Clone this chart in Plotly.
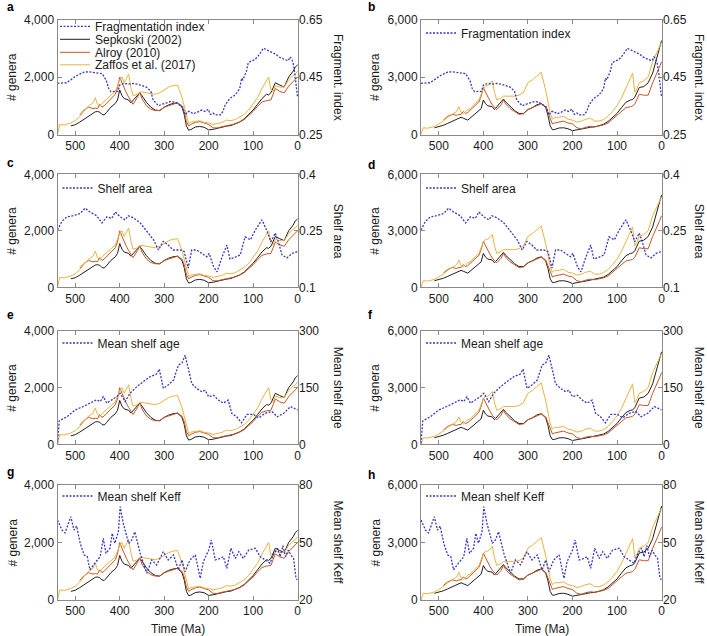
import plotly.graph_objects as go

# ---------------- data ----------------
T = [540, 535, 525, 515, 510, 500, 490, 480, 470, 460,
     455, 450, 445, 440, 435, 430, 420, 410, 405, 400,
     395, 390, 385, 380, 375, 370, 360, 355, 350, 340,
     330, 320, 310, 300, 290, 280, 270, 260, 255, 250,
     245, 240, 230, 220, 210, 200, 190, 180, 170, 160,
     150, 140, 130, 120, 110, 100, 90, 80, 70, 65,
     60, 55, 50, 40, 30, 20, 10, 5, 0]

sepkoski_left = [None, None, None, None, 300, 340, 430, 530, 640, 740,
                 790, 800, 780, 700, 680, 760, 950, 1080, 1200, 1550,
                 1350, 1250, 1230, 1200, 1100, 1180, 1350, 1450, 1350, 1120,
                 950, 850, 830, 950, 1030, 1080, 1100, 950, 700, 300,
                 150, 170, 260, 280, 250, 160, 180, 220, 250, 290,
                 310, 370, 440, 540, 690, 850, 1050, 1250, 1400, 1380,
                 1450, 1600, 1800, 1720, 1650, 2000, 2200, 2350, 2420]
alroy_left = [None, None, None, None, None, None, 680, 850, 950, 900,
              920, 900, 1050, 950, 1000, 1080, 1250, 1400, 1600, 2000,
              1800, 1600, 1450, 1300, 1150, 1050, 1300, 1470, 1250, 1000,
              880, 830, 840, 950, 1000, 1050, 1100, 1000, 800, 450,
              300, 350, 420, 450, 400, 350, 230, 230, 270, 300,
              320, 370, 430, 520, 660, 800, 980, 1130, 1180, 1200,
              1200, 1400, 1600, 1500, 1450, 1680, 1850, 1920, 2000]
zaffos_left = [0, 350, 330, 380, 400, 480, 620, 820, 1000, 1100,
               1280, 1050, 980, 1080, 1150, 1200, 1350, 1500, 1700, 1900,
               2000, 1800, 1950, 2100, 1650, 1350, 1400, 1480, 1480, 1450,
               1440, 1400, 1450, 1550, 1650, 1700, 1720, 1300, 1000, 600,
               380, 430, 460, 480, 420, 400, 350, 380, 420, 500,
               480, 520, 600, 700, 850, 1050, 1280, 1600, 1900, 2000,
               1550, 1500, 1700, 1650, 1650, 1900, 2050, 2100, 2200]

sepkoski_right = [None, None, None, None, 350, 400, 480, 580, 680, 780,
                  850, 900, 850, 780, 750, 850, 1050, 1200, 1350, 1800,
                  1600, 1500, 1480, 1450, 1300, 1450, 1700, 1850, 1700, 1450,
                  1250, 1100, 1100, 1300, 1400, 1550, 1620, 1400, 1000, 450,
                  250, 260, 340, 350, 300, 200, 230, 290, 330, 380,
                  400, 460, 540, 680, 880, 1100, 1400, 1680, 1800, 1820,
                  1950, 2200, 2450, 2500, 2700, 3200, 4000, 4500, 4900]
alroy_right = [None, None, None, None, None, None, 750, 950, 1050, 1000,
               1050, 1050, 1200, 1100, 1150, 1250, 1450, 1700, 2000, 2450,
               2200, 1950, 1750, 1550, 1400, 1300, 1550, 1800, 1600, 1350,
               1200, 1050, 1080, 1300, 1400, 1500, 1600, 1450, 1150, 800,
               550, 600, 650, 700, 600, 550, 350, 300, 380, 430,
               400, 450, 500, 600, 800, 1000, 1250, 1400, 1450, 1480,
               1600, 1850, 2100, 2050, 2050, 2700, 3200, 3500, 3800]
zaffos_right = [0, 350, 330, 400, 420, 550, 700, 900, 1050, 1200,
                1450, 1150, 1080, 1200, 1300, 1350, 1550, 1800, 2100, 2400,
                2550, 2550, 2650, 2800, 2200, 1800, 1900, 2000, 2000, 2000,
                2000, 2050, 2200, 2700, 2850, 3050, 3250, 2300, 1700, 1100,
                800, 900, 900, 950, 800, 750, 650, 700, 800, 850,
                700, 700, 780, 950, 1200, 1500, 1900, 2400, 2900, 3200,
                2200, 2400, 2700, 2800, 3000, 3800, 4300, 4600, 4800]

frag_t = [540, 530, 520, 510, 500, 490, 480, 470, 460, 450,
          440, 435, 430, 425, 420, 410, 404, 400, 390, 380,
          370, 360, 350, 340, 330, 325, 320, 313, 305, 295,
          285, 275, 265, 258, 253, 247, 242, 235, 225, 216,
          208, 201, 196, 190, 185, 174, 168, 163, 155, 150,
          143, 137, 130, 126, 123, 119, 115, 111, 105, 96,
          90, 85, 77, 70, 58, 50, 42, 36, 28, 21,
          17, 14, 10, 6, 2, 0]
frag_v = [0.428, 0.428, 0.430, 0.44, 0.452, 0.46, 0.467, 0.468, 0.466, 0.464,
          0.462, 0.45, 0.437, 0.41, 0.399, 0.40, 0.40, 0.422, 0.428, 0.425,
          0.428, 0.425, 0.42, 0.415, 0.40, 0.37, 0.362, 0.35, 0.355, 0.36,
          0.365, 0.362, 0.352, 0.345, 0.318, 0.33, 0.33, 0.322, 0.328, 0.335,
          0.33, 0.338, 0.32, 0.325, 0.318, 0.318, 0.33, 0.352, 0.37, 0.378,
          0.385, 0.394, 0.41, 0.446, 0.44, 0.457, 0.47, 0.499, 0.505, 0.51,
          0.52, 0.53, 0.55, 0.545, 0.538, 0.53, 0.52, 0.515, 0.51, 0.507,
          0.52, 0.515, 0.50, 0.46, 0.394, 0.38]

shelf_t = [540, 530, 519, 505, 489, 478, 467, 452, 440, 429,
           418, 410, 399, 388, 381, 370, 354, 339, 324, 313,
           302, 291, 280, 264, 255, 246, 238, 227, 215, 204,
           199, 189, 181, 170, 159, 152, 140, 129, 118, 106,
           95, 80, 69, 60, 50, 43, 35, 24, 12, 0]
shelf_v = [0.252, 0.275, 0.287, 0.29, 0.296, 0.31, 0.30, 0.29, 0.271, 0.287,
           0.283, 0.30, 0.287, 0.279, 0.29, 0.285, 0.271, 0.248, 0.226, 0.199,
           0.222, 0.212, 0.199, 0.199, 0.195, 0.151, 0.199, 0.199, 0.19, 0.181,
           0.19, 0.155, 0.141, 0.18, 0.212, 0.175, 0.18, 0.186, 0.234, 0.226,
           0.252, 0.279, 0.25, 0.221, 0.244, 0.22, 0.186, 0.178, 0.19, 0.195]

age_t = [540, 536, 519, 500, 482, 467, 452, 444, 437, 429,
         418, 407, 399, 388, 377, 362, 347, 332, 317, 311,
         302, 291, 279, 268, 260, 253, 245, 238, 227, 215,
         208, 200, 189, 178, 167, 156, 148, 137, 126, 114,
         99, 87, 73, 58, 46, 31, 16, 5, 0]
age_v = [3, 62, 73, 91, 100, 109, 118, 113, 126, 109,
         118, 126, 135, 113, 135, 152, 166, 179, 186, 199,
         148, 157, 170, 210, 215, 236, 197, 161, 148, 139,
         143, 126, 130, 117, 109, 117, 82, 73, 57, 79,
         79, 70, 82, 87, 73, 82, 100, 95, 91]

keff_t = [540, 530, 523, 510, 503, 497, 489, 480, 473, 467,
          456, 444, 437, 431, 422, 417, 411, 403, 399, 392,
          380, 373, 366, 354, 339, 328, 317, 302, 291, 279,
          268, 260, 253, 242, 230, 219, 212, 200, 194, 185,
          174, 167, 159, 150, 140, 132, 122, 110, 95, 84,
          73, 62, 53, 45, 39, 33, 27, 21, 15, 9,
          4, 1]
keff_v = [61.7, 56.5, 55, 63.5, 56.5, 58.6, 49.6, 43.5, 42.6, 35.7,
          39.2, 42.6, 52.2, 44.3, 47, 54.8, 49.6, 55.6, 68.7, 60,
          49.6, 51.3, 55.6, 44.3, 33.9, 40.9, 38.3, 45.2, 40.9, 43.5,
          35.7, 40.9, 34.8, 40.9, 43.5, 31.3, 40, 46, 51.3, 40.9,
          41.7, 42.6, 36.5, 47, 41.7, 45.2, 41.7, 46, 47, 42.6,
          40.9, 39.2, 44.3, 47, 42.6, 48.3, 42.6, 46, 43.5, 41.7,
          32.2, 30.4]

x_ticks = [500, 400, 300, 200, 100, 0]
left_ticks = {0: [0, 2000, 4000], 1: [0, 3000, 6000]}
left_ticktext = {0: ["0", "2,000", "4,000"], 1: ["0", "3,000", "6,000"]}

right_series = [
    ("Fragmentation index", "Fragment. index", frag_t, frag_v, [0.25, 0.45, 0.65], ["0.25", "0.45", "0.65"]),
    ("Shelf area", "Shelf area", shelf_t, shelf_v, [0.1, 0.25, 0.4], ["0.1", "0.25", "0.4"]),
    ("Mean shelf age", "Mean shelf age", age_t, age_v, [0, 150, 300], ["0", "150", "300"]),
    ("Mean shelf Keff", "Mean shelf Keff", keff_t, keff_v, [20, 50, 80], ["20", "50", "80"]),
]
diversity = {
    0: [("Sepkoski (2002)", sepkoski_left), ("Alroy (2010)", alroy_left), ("Zaffos et al. (2017)", zaffos_left)],
    1: [("Sepkoski (2002)", sepkoski_right), ("Alroy (2010)", alroy_right), ("Zaffos et al. (2017)", zaffos_right)],
}
panel_letters = ["a", "b", "c", "d", "e", "f", "g", "h"]

# ---------------- styling / layout ----------------
W, H = 707, 636
FONT = "Liberation Sans, Arial, Helvetica, sans-serif"
TXT = "#1a1a1a"
FRAME = "#8a8a8a"
colors = {"Sepkoski (2002)": "#1e1e1e", "Alroy (2010)": "#c4562b", "Zaffos et al. (2017)": "#e8b440"}
BLUE = "#3838c4"

col_px = [(57.5, 298), (421, 662)]
row_px = [(19.5, 134.5), (174.3, 287.3), (331, 444.3), (485, 600)]
letter_pos = [(5, 7), (366, 7), (5, 163), (366, 165), (5, 315), (366, 315), (5, 472), (366, 475)]
legend_row_y = [33, 188, 343, 496]


def fx(p):
    return p / W


def fy(p):
    return 1 - p / H


def ak(letter, n):
    return f"{letter}axis" if n == 1 else f"{letter}axis{n}"


def ar(letter, n):
    return letter if n == 1 else f"{letter}{n}"


fig = go.Figure()
layout = {}
annotations = []
leg_count = [0]


def new_legend(xtext, ycenter):
    leg_count[0] += 1
    name = "legend" if leg_count[0] == 1 else f"legend{leg_count[0]}"
    layout[name] = dict(x=fx(xtext - 40), xanchor="left", y=fy(ycenter), yanchor="middle",
                        bgcolor="rgba(0,0,0,0)", borderwidth=0,
                        font=dict(family=FONT, size=12, color=TXT))
    return name


for i in range(8):
    r, c = divmod(i, 2)
    n = i + 1
    nr = i + 9
    x0, x1 = col_px[c]
    yt, yb = row_px[r]
    rname, rtitle, rt, rv, rticks, rtext = right_series[r]

    layout[ak("x", n)] = dict(domain=[fx(x0), fx(x1)], range=[540, -1], anchor=ar("y", n),
                              tickvals=x_ticks, ticks="inside", ticklen=4, tickcolor=FRAME,
                              showline=True, linecolor=FRAME, linewidth=1, mirror="ticks",
                              showgrid=False, zeroline=False,
                              tickfont=dict(family=FONT, size=12, color=TXT))
    layout[ak("y", n)] = dict(domain=[fy(yb), fy(yt)], range=[0, left_ticks[c][-1]],
                              anchor=ar("x", n), tickvals=left_ticks[c], ticktext=left_ticktext[c],
                              ticks="inside", ticklen=4, tickcolor=FRAME,
                              showline=True, linecolor=FRAME, linewidth=1, mirror=True,
                              showgrid=False, zeroline=False,
                              tickfont=dict(family=FONT, size=12, color=TXT))
    layout[ak("y", nr)] = dict(overlaying=ar("y", n), side="right", anchor=ar("x", n),
                               range=[rticks[0], rticks[-1]], tickvals=rticks, ticktext=rtext,
                               ticks="inside", ticklen=4, tickcolor=FRAME,
                               showline=False, showgrid=False, zeroline=False,
                               tickfont=dict(family=FONT, size=12, color=TXT))

    legend_text_x = x0 + 40
    if i == 0:
        rows = [26.3, 39.3, 52.3, 64.8]
        legend_text_x = 95
    else:
        rows = [legend_row_y[r]]

    for name, vals in diversity[c]:
        show = i == 0
        kw = {}
        if show:
            idx = [nm for nm, _ in diversity[c]].index(name) + 1
            kw["legend"] = new_legend(legend_text_x, rows[idx])
        fig.add_trace(go.Scatter(x=T, y=vals, mode="lines", name=name,
                                 line=dict(color=colors[name], width=1.0),
                                 xaxis=ar("x", n), yaxis=ar("y", n),
                                 showlegend=show, connectgaps=False, **kw))

    lg = new_legend(legend_text_x, rows[0])
    fig.add_trace(go.Scatter(x=rt, y=rv, mode="lines", name=rname,
                             line=dict(color=BLUE, width=1.3, dash="2px,1.5px"),
                             xaxis=ar("x", n), yaxis=ar("y", nr),
                             showlegend=True, legend=lg))

    ymid = (yt + yb) / 2
    lx = 12 if c == 0 else 375
    rx = 338 if c == 0 else 699
    annotations.append(dict(text="# genera", x=fx(lx), y=fy(ymid), xref="paper", yref="paper",
                            textangle=-90, showarrow=False, xanchor="center", yanchor="middle",
                            font=dict(family=FONT, size=12, color=TXT)))
    annotations.append(dict(text=rtitle, x=fx(rx), y=fy(ymid), xref="paper", yref="paper",
                            textangle=90, showarrow=False, xanchor="center", yanchor="middle",
                            font=dict(family=FONT, size=12, color=TXT)))
    lpx, lpy = letter_pos[i]
    annotations.append(dict(text=f"<b>{panel_letters[i]}</b>", x=fx(lpx), y=fy(lpy),
                            xref="paper", yref="paper", showarrow=False,
                            xanchor="left", yanchor="middle",
                            font=dict(family=FONT, size=12, color="#000")))
    if r == 3:
        annotations.append(dict(text="Time (Ma)", x=fx((x0 + x1) / 2), y=fy(629), xref="paper",
                                yref="paper", showarrow=False, xanchor="center", yanchor="middle",
                                font=dict(family=FONT, size=12, color=TXT)))

fig.update_layout(width=W, height=H, margin=dict(l=0, r=0, t=0, b=0, autoexpand=False),
                  paper_bgcolor="white", plot_bgcolor="white",
                  font=dict(family=FONT, size=12, color=TXT),
                  annotations=annotations, **layout)

fig.write_html("out.html", config={"displayModeBar": False},
               post_script="document.body.style.margin='0';document.body.style.overflow='hidden';")
